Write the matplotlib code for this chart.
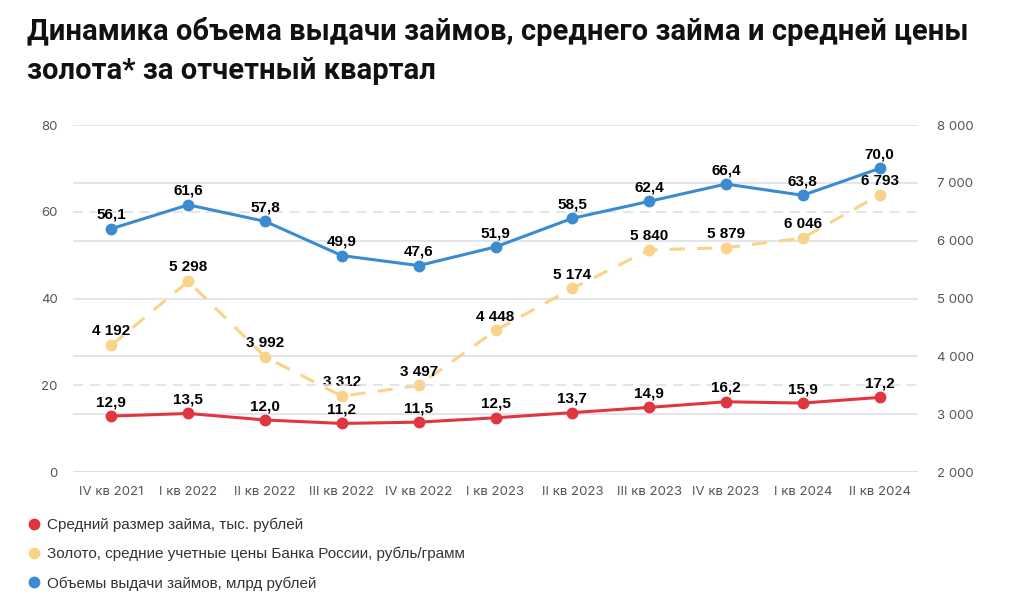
import numpy as np
import matplotlib.pyplot as plt
from matplotlib.lines import Line2D

quarters = ['IV кв 2021', 'I кв 2022', 'II кв 2022', 'III кв 2022', 'IV кв 2022',
            'I кв 2023', 'II кв 2023', 'III кв 2023', 'IV кв 2023', 'I кв 2024', 'II кв 2024']
avg_loan = [12.9, 13.5, 12.0, 11.2, 11.5, 12.5, 13.7, 14.9, 16.2, 15.9, 17.2]
gold_price = [4192, 5298, 3992, 3312, 3497, 4448, 5174, 5840, 5879, 6046, 6793]
loan_volume = [56.1, 61.6, 57.8, 49.9, 47.6, 51.9, 58.5, 62.4, 66.4, 63.8, 70.0]

left_ticks = [0, 20, 40, 60, 80]
right_ticks = [2000, 3000, 4000, 5000, 6000, 7000, 8000]

legend_labels = ['Средний размер займа, тыс. рублей',
                 'Золото, средние учетные цены Банка России, рубль/грамм',
                 'Объемы выдачи займов, млрд рублей']

RED = '#e0363f'
GOLD = '#f9d38a'
BLUE = '#3b8bd0'
TICK = '#555555'
GRID = '#dfe0e6'

plt.rcParams['font.family'] = ['Inter', 'DejaVu Sans']

fig = plt.figure(figsize=(10.24, 6.10), dpi=100)
ax = fig.add_axes([0.0713, 0.2262, 0.8252, 0.5688])
ax2 = ax.twinx()

x = np.arange(len(quarters))
lbl_font = dict(fontsize=11, fontweight='bold', color='black', family=['Liberation Sans', 'DejaVu Sans'])

# base axis: gold price (right scale), solid grid
ax.set_ylim(2000, 8000)
ax.set_yticks(right_ticks)
ax.yaxis.tick_right()
ax.set_yticklabels([f'{v:,}'.replace(',', ' ') for v in right_ticks])
ax.grid(axis='y', color=GRID, lw=1.2, zorder=0)
ax.axhline(2000, color='#d8dcec', lw=1.4, zorder=1)
ax.plot(x, gold_price, color=GOLD, lw=2.2, ls=(0, (5, 4)), marker='o', ms=7.5, zorder=3)
for xi, v in zip(x, gold_price):
    ax.annotate(f'{v:,}'.replace(',', ' '), (xi, v), xytext=(0, 10), textcoords='offset points',
                ha='center', va='center', **lbl_font)

# top axis: loans (left scale)
ax2.set_ylim(0, 80)
ax2.set_yticks(left_ticks)
ax2.yaxis.tick_left()
ax2.set_yticklabels([str(v) for v in left_ticks])
for v in [20, 60]:
    ax2.axhline(v, color=GRID, lw=1.2, ls=(0, (6, 4)), zorder=0)
ax2.plot(x, avg_loan, color=RED, lw=2.2, marker='o', ms=7.5, zorder=3)
ax2.plot(x, loan_volume, color=BLUE, lw=2.2, marker='o', ms=7.5, zorder=3)
for series in (avg_loan, loan_volume):
    for xi, v in zip(x, series):
        ax2.annotate(f'{v:.1f}'.replace('.', ','), (xi, v), xytext=(0, 10), textcoords='offset points',
                     ha='center', va='center', **lbl_font)

ax.set_xlim(-0.5, len(quarters) - 0.5)
ax.set_xticks(x)
ax.set_xticklabels(quarters)

for a in (ax, ax2):
    for s in a.spines.values():
        s.set_visible(False)
    a.tick_params(length=0, labelsize=9.5, labelcolor=TICK)
ax.tick_params(axis='x', pad=10)
ax.tick_params(axis='y', pad=14)
ax2.tick_params(axis='y', pad=11)

fig.text(0.026, 0.972, 'Динамика объема выдачи займов, среднего займа и средней цены\nзолота* за отчетный квартал',
         ha='left', va='top', fontsize=21, fontweight='bold', linespacing=1.5,
         family=['Liberation Sans Narrow', 'Roboto', 'DejaVu Sans'], color='#111111')

handles = [Line2D([], [], ls='none', marker='o', ms=7.5, color=c) for c in (RED, GOLD, BLUE)]
fig.legend(handles, legend_labels, loc='upper left', bbox_to_anchor=(0.012, 0.174),
           frameon=False, handletextpad=0.35, labelspacing=0.98, handlelength=1.0,
           prop={'family': ['Liberation Sans', 'DejaVu Sans'], 'size': 11}, labelcolor='#333333')

fig.savefig('out.png', dpi=100)
